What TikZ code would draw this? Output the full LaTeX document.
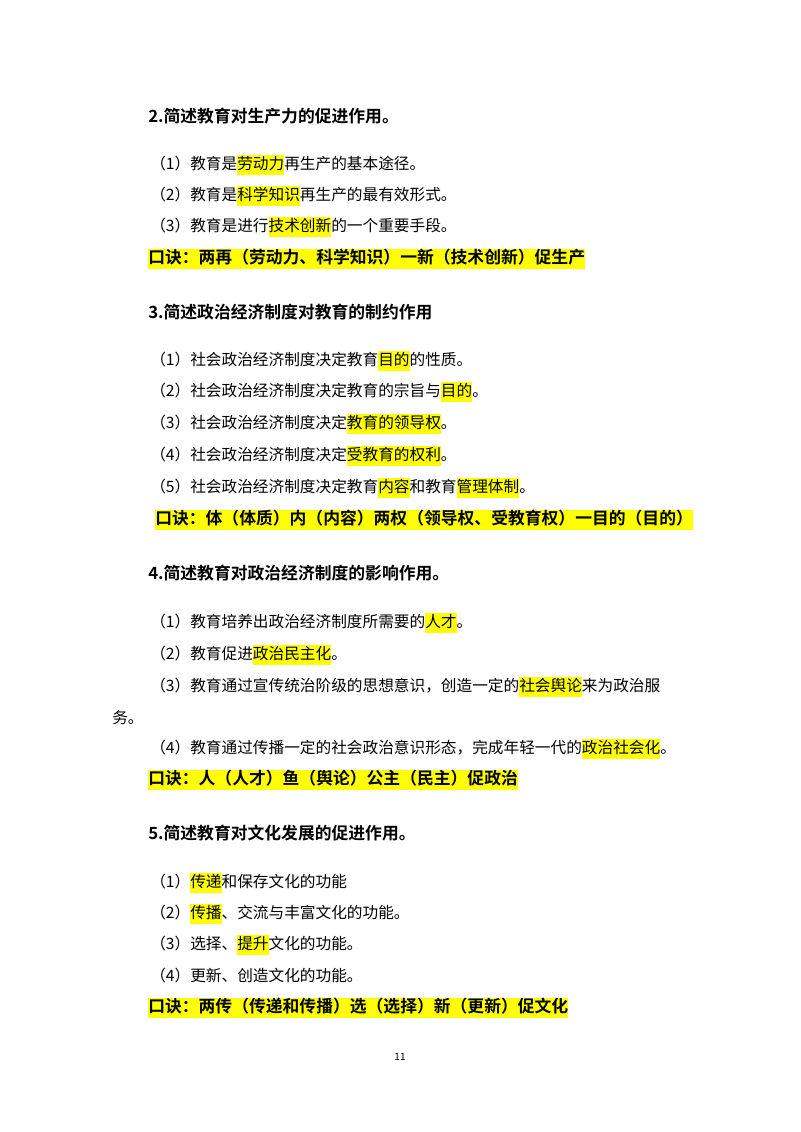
\documentclass[tikz,border=0pt]{standalone}
\usepackage{fontspec}
\setmainfont{Noto Sans CJK SC}
\newfontfamily\bfcjk{Noto Sans CJK SC Bold}
\definecolor{hly}{RGB}{255,255,0}
\newcommand\hl[1]{{\setlength{\fboxsep}{0pt}\colorbox{hly}{\rule[-4pt]{0pt}{14.5pt}#1}}}
\begin{document}
\begin{tikzpicture}[x=0.75pt,y=-0.75pt,
  t/.style={anchor=west,inner sep=0pt,font=\fontsize{11.75pt}{14pt}\selectfont},
  h/.style={anchor=west,inner sep=0pt,font=\fontsize{12.6pt}{15pt}\bfcjk}]
\useasboundingbox (0,0) rectangle (800,1132);
\node[h] (h2) at (148,116) {2.简述教育对生产力的促进作用。};
\node[t] (a1) at (150,165) {（1）教育是\hl{劳动力}再生产的基本途径。};
\node[t] (a2) at (150,196) {（2）教育是\hl{科学知识}再生产的最有效形式。};
\node[t] (a3) at (150,227) {（3）教育是进行\hl{技术创新}的一个重要手段。};
\node[h] (ak) at (148,259) {\hl{口诀：两再（劳动力、科学知识）一新（技术创新）促生产}};
\node[h] (h3) at (148,312) {3.简述政治经济制度对教育的制约作用};
\node[t] (b1) at (150,361) {（1）社会政治经济制度决定教育\hl{目的}的性质。};
\node[t] (b2) at (150,392) {（2）社会政治经济制度决定教育的宗旨与\hl{目的}。};
\node[t] (b3) at (150,424) {（3）社会政治经济制度决定\hl{教育的领导权}。};
\node[t] (b4) at (150,456) {（4）社会政治经济制度决定\hl{受教育的权利}。};
\node[t] (b5) at (150,488) {（5）社会政治经济制度决定教育\hl{内容}和教育\hl{管理体制}。};
\node[h] (bk) at (155,520) {\hl{口诀：体（体质）内（内容）两权（领导权、受教育权）一目的（目的）}};
\node[h] (h4) at (148,573) {4.简述教育对政治经济制度的影响作用。};
\node[t] (c1) at (150,623) {（1）教育培养出政治经济制度所需要的\hl{人才}。};
\node[t] (c2) at (150,655) {（2）教育促进\hl{政治民主化}。};
\node[t] (c3) at (150,687) {（3）教育通过宣传统治阶级的思想意识，创造一定的\hl{社会舆论}来为政治服};
\node[t] (c3b) at (112,718) {务。};
\node[t] (c4) at (150,749) {（4）教育通过传播一定的社会政治意识形态，完成年轻一代的\hl{政治社会化}。};
\node[h] (ck) at (148,780) {\hl{口诀：人（人才）鱼（舆论）公主（民主）促政治}};
\node[h] (h5) at (148,833) {5.简述教育对文化发展的促进作用。};
\node[t] (d1) at (150,883) {（1）\hl{传递}和保存文化的功能};
\node[t] (d2) at (150,914) {（2）\hl{传播}、交流与丰富文化的功能。};
\node[t] (d3) at (150,945) {（3）选择、\hl{提升}文化的功能。};
\node[t] (d4) at (150,976) {（4）更新、创造文化的功能。};
\node[h] (dk) at (148,1008) {\hl{口诀：两传（传递和传播）选（选择）新（更新）促文化}};
\node[inner sep=0pt,font=\fontsize{7.5pt}{9pt}\selectfont] (pn) at (400,1057) {11};
\end{tikzpicture}
\end{document}
